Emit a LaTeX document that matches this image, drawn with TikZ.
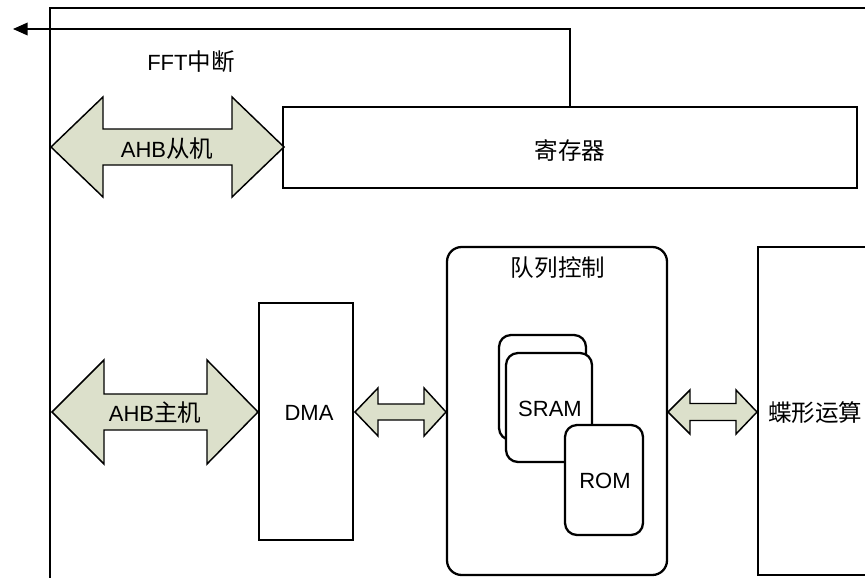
\documentclass[tikz,border=0pt]{standalone}
\usepackage{fontspec}
\setmainfont{Liberation Sans}
\newfontfamily\cjk[Scale=1.07]{Noto Sans CJK SC}
\usetikzlibrary{arrows.meta}
\definecolor{arrowfill}{RGB}{220,224,203}
\newcommand{\dblarr}[7]{\draw[dbl] (#1,#5) -- (#2,#5-#6) -- (#2,#5-#7) -- (#3,#5-#7) -- (#3,#5-#6) -- (#4,#5) -- (#3,#5+#6) -- (#3,#5+#7) -- (#2,#5+#7) -- (#2,#5+#6) -- cycle;}
\begin{document}
\begin{tikzpicture}[x=0.75pt,y=-0.75pt,
  font=\fontsize{16.5}{18}\selectfont,
  thinline/.style={line width=1.1pt},
  box/.style={draw, line width=1.1pt, fill=white, inner sep=0pt},
  rbox/.style={draw, line width=1.7pt, fill=white, inner sep=0pt},
  dbl/.style={draw, line width=1.1pt, fill=arrowfill, line join=miter},
  lbl/.style={inner sep=0pt, text=black}]
\useasboundingbox (0,0) rectangle (865,578);
\clip (0,0) rectangle (865,578);

% outer frame
\draw[thinline] (50,580) -- (50,8) -- (870,8);

% register
\node[box, minimum width={574*0.75pt}, minimum height={81*0.75pt}] (reg) at (570,147.5) {};
\node[lbl] (regt) at (570,150) {\cjk 寄存器};

% interrupt line
\coordinate (irq) at (13,29);
\draw[thinline, -{Triangle[length=11pt,width=9.5pt]}] (reg.north) -- (reg.north |- irq) -- (irq);
\node[lbl] (fft) at (191,62) {FFT\cjk 中断};

% AHB slave arrow
\dblarr{51}{103}{232}{284}{147}{50}{18}
\node[lbl] (slave) at (167,149) {AHB\cjk 从机};

% AHB master arrow
\dblarr{52}{104}{207}{258}{412}{52}{18}
\node[lbl] (master) at (155,413) {AHB\cjk 主机};

% DMA
\node[box, minimum width={94*0.75pt}, minimum height={237*0.75pt}] (dma) at (306,421.5) {};
\node[lbl] (dmat) at (309,413) {DMA};

% DMA <-> queue
\dblarr{355}{378}{424}{446}{412}{24}{8}

% queue control
\node[rbox, rounded corners=11pt, minimum width={220*0.75pt}, minimum height={328*0.75pt}] (queue) at (557,411) {};
\node[lbl] (queuet) at (558,268) {\cjk 队列控制};

% SRAM cards
\node[rbox, rounded corners=9pt, minimum width={87*0.75pt}, minimum height={105*0.75pt}] (sramb) at (542.5,387.5) {};
\node[rbox, rounded corners=9pt, minimum width={86*0.75pt}, minimum height={109*0.75pt}] (sram) at (549,407.5) {};
\node[lbl] (sramt) at (550,409) {SRAM};
\node[rbox, rounded corners=9pt, minimum width={78*0.75pt}, minimum height={110*0.75pt}] (rom) at (604,480) {};
\node[lbl] (romt) at (605,481) {ROM};

% queue <-> butterfly
\dblarr{668}{690}{736}{757}{412}{22}{8.5}

% butterfly
\node[box, minimum width={150*0.75pt}, minimum height={328*0.75pt}] (bfly) at (833,411) {};
\node[lbl, anchor=west] (bflyt) at (768,413) {\cjk 蝶形运算};
\end{tikzpicture}
\end{document}
